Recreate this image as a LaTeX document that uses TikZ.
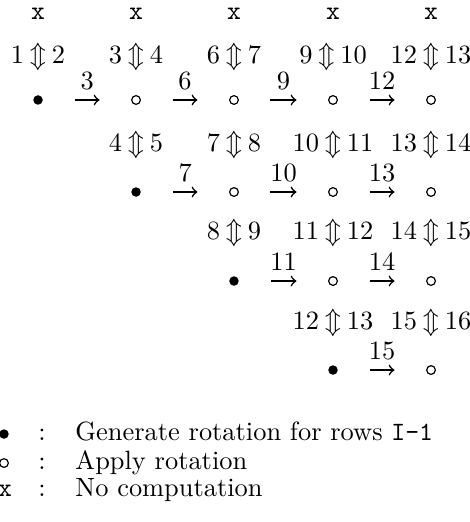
\documentclass[tikz,border=0pt]{standalone}
\usepackage{tikz}
\usetikzlibrary{positioning}

\begin{document}
\begin{tikzpicture}[
    every node/.style={inner sep=1pt},
    full/.style={
        circle,
        fill=black,
        inner sep=0pt,
        minimum size=3.6pt
    },
    empty/.style={
        circle,
        draw=black,
        line width=0.45pt,
        inner sep=0pt,
        minimum size=3.3pt
    },
    nocomp/.style={font=\ttfamily},
    pairlabel/.style={align=center},
    steplabel/.style={above=2.5pt},
    arrow/.style={->, semithick, shorten >=0.42cm, shorten <=0.42cm}
]

\useasboundingbox (0,0) rectangle (6.244,-6.949);

% No computation markers
\node[nocomp] (x1) at (0.506, -0.186) {x};
\node[nocomp] (x2) at (1.811, -0.186) {x};
\node[nocomp] (x3) at (3.115, -0.186) {x};
\node[nocomp] (x4) at (4.433, -0.186) {x};
\node[nocomp] (x5) at (5.738, -0.186) {x};

% Row pairs
\node[pairlabel] (l11) at (0.506, -0.759) {$1\:{\Updownarrow}\:2$};
\node[pairlabel] (l12) at (1.811, -0.759) {$3\:{\Updownarrow}\:4$};
\node[pairlabel] (l13) at (3.115, -0.759) {$6\:{\Updownarrow}\:7$};
\node[pairlabel] (l14) at (4.433, -0.759) {$9\:{\Updownarrow}\:10$};
\node[pairlabel] (l15) at (5.738, -0.759) {$12\:{\Updownarrow}\:13$};

\node[pairlabel] (l22) at (1.811, -1.930) {$4\:{\Updownarrow}\:5$};
\node[pairlabel] (l23) at (3.115, -1.930) {$7\:{\Updownarrow}\:8$};
\node[pairlabel] (l24) at (4.433, -1.930) {$10\:{\Updownarrow}\:11$};
\node[pairlabel] (l25) at (5.738, -1.930) {$13\:{\Updownarrow}\:14$};

\node[pairlabel] (l33) at (3.115, -3.102) {$8\:{\Updownarrow}\:9$};
\node[pairlabel] (l34) at (4.433, -3.102) {$11\:{\Updownarrow}\:12$};
\node[pairlabel] (l35) at (5.738, -3.102) {$14\:{\Updownarrow}\:15$};

\node[pairlabel] (l44) at (4.433, -4.300) {$12\:{\Updownarrow}\:13$};
\node[pairlabel] (l45) at (5.738, -4.300) {$15\:{\Updownarrow}\:16$};

% Rotations
\node[full]  (d11) at (0.506, -1.331) {};
\node[empty] (d12) at (1.811, -1.331) {};
\node[empty] (d13) at (3.115, -1.331) {};
\node[empty] (d14) at (4.433, -1.331) {};
\node[empty] (d15) at (5.738, -1.331) {};

\node[full]  (d22) at (1.811, -2.556) {};
\node[empty] (d23) at (3.115, -2.556) {};
\node[empty] (d24) at (4.433, -2.556) {};
\node[empty] (d25) at (5.738, -2.556) {};

\node[full]  (d33) at (3.115, -3.741) {};
\node[empty] (d34) at (4.433, -3.741) {};
\node[empty] (d35) at (5.738, -3.741) {};

\node[full]  (d44) at (4.433, -4.926) {};
\node[empty] (d45) at (5.738, -4.926) {};

% Arrows
\draw[arrow] (d11) -- node[steplabel] {3} (d12);
\draw[arrow] (d12) -- node[steplabel] {6} (d13);
\draw[arrow] (d13) -- node[steplabel] {9} (d14);
\draw[arrow] (d14) -- node[steplabel] {12} (d15);

\draw[arrow] (d22) -- node[steplabel] {7} (d23);
\draw[arrow] (d23) -- node[steplabel] {10} (d24);
\draw[arrow] (d24) -- node[steplabel] {13} (d25);

\draw[arrow] (d33) -- node[steplabel] {11} (d34);
\draw[arrow] (d34) -- node[steplabel] {14} (d35);

\draw[arrow] (d44) -- node[steplabel] {15} (d45);

% Legend
\node[full]   (kg) at (0.053, -5.778) {};
\node[empty]  (ka) at (0.053, -6.164) {};
\node[nocomp, anchor=base] (kx) at (0.066, -6.616) {x};

\node[anchor=base] (kgc) at (0.56, -5.858) {:};
\node[anchor=base] (kac) at (0.56, -6.244) {:};
\node[anchor=base] (kxc) at (0.56, -6.616) {:};

\node[anchor=base west, inner sep=0pt] (kgt) at (0.998, -5.858) {Generate rotation for rows \texttt{I-1}};
\node[anchor=base west, inner sep=0pt] (kat) at (0.998, -6.244) {Apply rotation};
\node[anchor=base west, inner sep=0pt] (kxt) at (0.998, -6.616) {No computation};

\end{tikzpicture}
\end{document}
